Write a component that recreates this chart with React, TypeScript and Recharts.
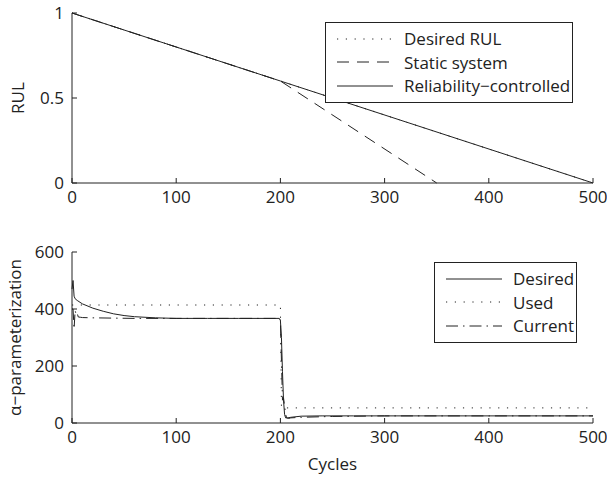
import React from "react";
import { Legend, Line, LineChart, XAxis, YAxis } from "recharts";

// top panel: remaining useful life
const rulDesiredT = [0, 500];
const rulDesiredV = [1, 0];
const rulStaticT = [0, 200, 350];
const rulStaticV = [1, 0.6, 0];
const rulControlledT = [0, 200, 500];
const rulControlledV = [1, 0.6, 0];

// bottom panel: alpha parameterization
const desiredT = [0, 1, 2, 3, 5, 10, 20, 30, 40, 50, 60, 80, 100, 130, 160, 199, 200, 201, 202, 203, 204, 205, 207, 210, 215, 220, 240, 270, 300, 400, 500];
const desiredV = [470, 500, 445, 436, 430, 418, 403, 392, 383, 377, 373, 369, 367, 367, 367, 367, 360, 300, 180, 80, 30, 18, 18, 20, 22, 24, 25, 25, 25, 25, 25];
const usedT = [0, 200, 201, 500];
const usedV = [414, 414, 53, 53];
const currentT = [0, 1, 2, 3, 4, 5, 6, 8, 10, 20, 40, 60, 100, 150, 199, 200, 202, 203, 204, 205, 206, 208, 210, 220, 250, 300, 400, 500];
const currentV = [400, 400, 330, 395, 380, 385, 372, 371, 370, 369, 368, 367, 367, 367, 367, 360, 80, 88, 60, 30, 18, 16, 18, 20, 23, 25, 25, 25];

const xTicks = [0, 100, 200, 300, 400, 500];
const rulTicks = [0, 0.5, 1];
const alphaTicks = [0, 200, 400, 600];

const zip = (t: number[], v: number[]) => t.map((x, i) => ({ t: x, v: v[i] }));

const FONT = "'Open Sans', sans-serif";
const INK = "#222";
const DOTTED = "1.2 7.6";
const DASHED = "12 8";
const DASHDOT = "12 5 1.5 5";

type Item = { label: string; dash?: string };

const BoxLegend = ({ items }: { items: Item[] }) => (
  <div
    style={{
      border: `1px solid ${INK}`,
      background: "#fff",
      padding: "4px 2px 4px 10px",
      fontFamily: FONT,
      fontSize: 17,
      color: INK,
    }}
  >
    {items.map((it) => (
      <div key={it.label} style={{ display: "flex", alignItems: "center", height: 23.5 }}>
        <svg width={58} height={10} style={{ marginRight: 10 }}>
          <line x1={1} y1={5} x2={57} y2={5} stroke={INK} strokeWidth={1} strokeDasharray={it.dash} />
        </svg>
        <span style={{ whiteSpace: "nowrap" }}>{it.label}</span>
      </div>
    ))}
  </div>
);

const axisStyle = { fontFamily: FONT, fontSize: 17, fill: INK };

export default function App() {
  return (
    <div style={{ position: "absolute", left: 0, top: 0, width: 607, height: 477, background: "#fff" }}>
      <LineChart width={607} height={210} margin={{ top: 13, right: 14, left: 0, bottom: 0 }}>
        <XAxis
          type="number"
          dataKey="t"
          domain={[0, 500]}
          ticks={xTicks}
          height={27}
          tickSize={-5}
          tickMargin={13}
          stroke={INK}
          tick={axisStyle}
        />
        <YAxis
          type="number"
          dataKey="v"
          domain={[0, 1]}
          ticks={rulTicks}
          width={72}
          tickSize={-5}
          tickMargin={13}
          stroke={INK}
          tick={axisStyle}
          label={{ value: "RUL", angle: -90, position: "insideLeft", offset: 18, style: { ...axisStyle, textAnchor: "middle" } }}
        />
        <Legend
          layout="vertical"
          align="center"
          verticalAlign="middle"
          content={() => (
            <BoxLegend
              items={[
                { label: "Desired RUL", dash: DOTTED },
                { label: "Static system", dash: DASHED },
                { label: "Reliability\u2212controlled" },
              ]}
            />
          )}
          wrapperStyle={{ left: 325, top: 22, width: "auto" }}
        />
        <Line data={zip(rulDesiredT, rulDesiredV)} dataKey="v" stroke={INK} strokeWidth={1} strokeDasharray={DOTTED} dot={false} isAnimationActive={false} />
        <Line data={zip(rulStaticT, rulStaticV)} dataKey="v" stroke={INK} strokeWidth={1} strokeDasharray={DASHED} dot={false} isAnimationActive={false} />
        <Line data={zip(rulControlledT, rulControlledV)} dataKey="v" stroke={INK} strokeWidth={1} dot={false} isAnimationActive={false} />
      </LineChart>

      <LineChart width={607} height={267} margin={{ top: 42, right: 14, left: 0, bottom: 0 }}>
        <XAxis
          type="number"
          dataKey="t"
          domain={[0, 500]}
          ticks={xTicks}
          height={54}
          tickSize={-5}
          tickMargin={13}
          stroke={INK}
          tick={axisStyle}
          label={{ value: "Cycles", position: "insideBottom", offset: 7, style: axisStyle }}
        />
        <YAxis
          type="number"
          dataKey="v"
          domain={[0, 600]}
          ticks={alphaTicks}
          width={72}
          tickSize={-5}
          tickMargin={13}
          stroke={INK}
          tick={axisStyle}
          label={{ value: "\u03b1\u2212parameterization", angle: -90, position: "insideLeft", offset: 15, style: { ...axisStyle, textAnchor: "middle" } }}
        />
        <Legend
          layout="vertical"
          align="center"
          verticalAlign="middle"
          content={() => (
            <BoxLegend
              items={[
                { label: "Desired" },
                { label: "Used", dash: DOTTED },
                { label: "Current", dash: DASHDOT },
              ]}
            />
          )}
          wrapperStyle={{ left: 434, top: 52, width: "auto" }}
        />
        <Line data={zip(desiredT, desiredV)} dataKey="v" stroke={INK} strokeWidth={1} dot={false} isAnimationActive={false} />
        <Line data={zip(usedT, usedV)} dataKey="v" stroke={INK} strokeWidth={1} strokeDasharray={DOTTED} dot={false} isAnimationActive={false} />
        <Line data={zip(currentT, currentV)} dataKey="v" stroke={INK} strokeWidth={1} strokeDasharray={DASHDOT} dot={false} isAnimationActive={false} />
      </LineChart>
    </div>
  );
}
